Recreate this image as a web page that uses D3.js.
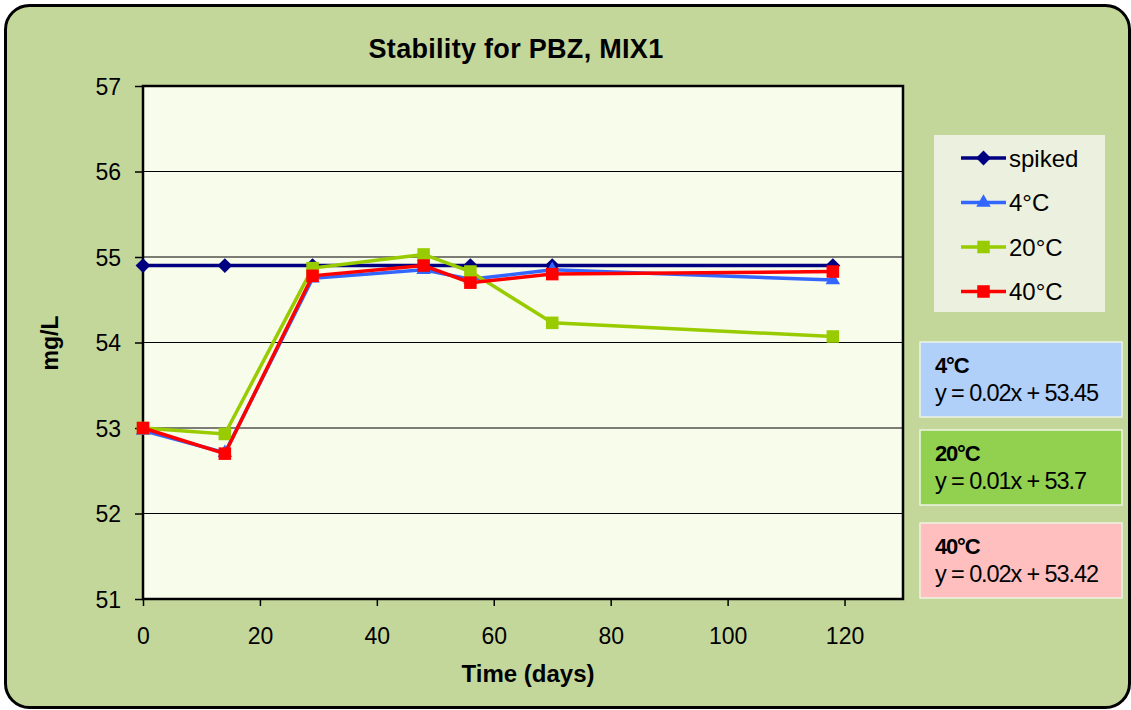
<!DOCTYPE html>
<html>
<head>
<meta charset="utf-8">
<script src="https://d3js.org/d3.v7.min.js"></script>
<style>
  * { margin: 0; padding: 0; }
  body { background: #ffffff; }
  svg text { font-family: "Liberation Sans", Arial, sans-serif; }
</style>
</head>
<body>
<div id="chart"></div>
<script>
// data
var days = [0, 14, 29, 48, 56, 70, 118];
var spiked = [54.9, 54.9, 54.9, 54.9, 54.9, 54.9, 54.9];
var c4 = [52.97, 52.71, 54.75, 54.85, 54.74, 54.85, 54.73];
var c20 = [53.0, 52.93, 54.87, 55.03, 54.83, 54.23, 54.07];
var c40 = [53.0, 52.7, 54.78, 54.9, 54.7, 54.8, 54.83];
var seriesNames = ["spiked", "4°C", "20°C", "40°C"];
var xTicks = [0, 20, 40, 60, 80, 100, 120];
var yTicks = [51, 52, 53, 54, 55, 56, 57];
var eqTitles = ["4°C", "20°C", "40°C"];
var eqTexts = ["y = 0.02x + 53.45", "y = 0.01x + 53.7", "y = 0.02x + 53.42"];

var width = 1131, height = 710;
var plot = {left: 143, top: 86, right: 903, bottom: 599};

var svg = d3.select('#chart').append('svg')
  .attr('width', width).attr('height', height);

// outer frame
svg.append('rect')
  .attr('x', 5.5).attr('y', 5.5)
  .attr('width', 1124).attr('height', 702)
  .attr('rx', 24).attr('ry', 24)
  .style('fill', '#c4d79b')
  .style('stroke', '#000').style('stroke-width', 3);

var x = d3.scaleLinear().domain([0, 130]).range([plot.left, plot.right]);
var y = d3.scaleLinear().domain([51, 57]).range([plot.bottom, plot.top]);

// plot background
svg.append('rect')
  .attr('x', plot.left).attr('y', plot.top)
  .attr('width', plot.right - plot.left).attr('height', plot.bottom - plot.top)
  .style('fill', '#f8fcea');

// gridlines
svg.append('g').selectAll('line')
  .data(yTicks.slice(1, -1))
  .enter().append('line')
  .attr('x1', plot.left).attr('x2', plot.right)
  .attr('y1', d => y(d)).attr('y2', d => y(d))
  .style('stroke', '#000').style('stroke-width', 1.2);

// axes
var xAxis = d3.axisBottom(x).tickValues(xTicks).tickSize(7).tickSizeOuter(0)
  .tickFormat(d3.format('d'));
var gx = svg.append('g')
  .attr('transform', 'translate(0,' + plot.bottom + ')')
  .call(xAxis);
gx.select('.domain').remove();
gx.selectAll('line').style('stroke', '#000').style('stroke-width', 1.5);
gx.selectAll('text')
  .attr('dy', null).attr('y', 45)
  .style('font-size', '23px').style('fill', '#000');

var yAxis = d3.axisLeft(y).tickValues(yTicks).tickSize(8).tickSizeOuter(0)
  .tickFormat(d3.format('d'));
var gy = svg.append('g')
  .attr('transform', 'translate(' + plot.left + ',0)')
  .call(yAxis);
gy.select('.domain').remove();
gy.selectAll('line').style('stroke', '#000').style('stroke-width', 1.5);
gy.selectAll('text')
  .attr('x', -22).attr('dy', '0.36em')
  .style('font-size', '23px').style('fill', '#000');

// plot border
svg.append('rect')
  .attr('x', plot.left).attr('y', plot.top)
  .attr('width', plot.right - plot.left).attr('height', plot.bottom - plot.top)
  .style('fill', 'none').style('stroke', '#000').style('stroke-width', 2.5);

// series
var series = [
  {name: seriesNames[0], values: spiked, color: '#000080', marker: 'diamond'},
  {name: seriesNames[1], values: c4, color: '#3366ff', marker: 'triangle'},
  {name: seriesNames[2], values: c20, color: '#99cc00', marker: 'square'},
  {name: seriesNames[3], values: c40, color: '#ff0000', marker: 'square'}
];

function markerPath(type) {
  if (type === 'diamond') return d3.symbol().type(d3.symbolDiamond2).size(140)();
  if (type === 'triangle') return d3.symbol().type(d3.symbolTriangle2).size(150)();
  return d3.symbol().type(d3.symbolSquare2).size(200)();
}

var line = d3.line().x((d, i) => x(days[i])).y(d => y(d));

series.forEach(function(s) {
  var g = svg.append('g');
  g.append('path')
    .attr('d', line(s.values))
    .style('fill', 'none').style('stroke', s.color).style('stroke-width', 3.5);
  g.selectAll('path.mk')
    .data(s.values)
    .enter().append('path')
    .attr('class', 'mk')
    .attr('d', markerPath(s.marker))
    .attr('transform', (d, i) => 'translate(' + x(days[i]) + ',' + y(d) + ')')
    .style('fill', s.color);
});

// title and axis labels
svg.append('text')
  .attr('x', 516).attr('y', 58)
  .attr('text-anchor', 'middle')
  .style('font-size', '27px').style('font-weight', 'bold')
  .style('letter-spacing', '0.3px')
  .text('Stability for PBZ, MIX1');

svg.append('text')
  .attr('x', 528).attr('y', 682)
  .attr('text-anchor', 'middle')
  .style('font-size', '24px').style('font-weight', 'bold')
  .text('Time (days)');

svg.append('text')
  .attr('transform', 'translate(58,343) rotate(-90)')
  .attr('text-anchor', 'middle')
  .style('font-size', '23px').style('font-weight', 'bold')
  .text('mg/L');

// legend
var legend = svg.append('g');
legend.append('rect')
  .attr('x', 934).attr('y', 135).attr('width', 171).attr('height', 177)
  .style('fill', '#ebf0df');
series.forEach(function(s, i) {
  var ly = 158 + i * 44.5;
  legend.append('line')
    .attr('x1', 961).attr('x2', 1006).attr('y1', ly).attr('y2', ly)
    .style('stroke', s.color).style('stroke-width', 3.5);
  legend.append('path')
    .attr('d', markerPath(s.marker))
    .attr('transform', 'translate(983.5,' + ly + ')')
    .style('fill', s.color);
  legend.append('text')
    .attr('x', 1009).attr('y', ly).attr('dy', '0.36em')
    .style('font-size', '24px')
    .text(s.name);
});

// equation boxes
var boxColors = ['#b0cff9', '#92d050', '#ffbfbf'];
var boxTops = [342, 430, 523];
eqTitles.forEach(function(t, i) {
  var g = svg.append('g').attr('transform', 'translate(920,' + boxTops[i] + ')');
  g.append('rect')
    .attr('width', 202).attr('height', 75)
    .style('fill', boxColors[i])
    .style('stroke', '#eef3e4').style('stroke-width', 1.5);
  g.append('text')
    .attr('x', 15).attr('y', 31)
    .style('font-size', '22px').style('font-weight', 'bold')
    .style('letter-spacing', '-1.2px')
    .text(t);
  g.append('text')
    .attr('x', 15).attr('y', 59)
    .style('font-size', '23.5px')
    .style('letter-spacing', '-1.1px')
    .text(eqTexts[i]);
});
</script>
</body>
</html>
